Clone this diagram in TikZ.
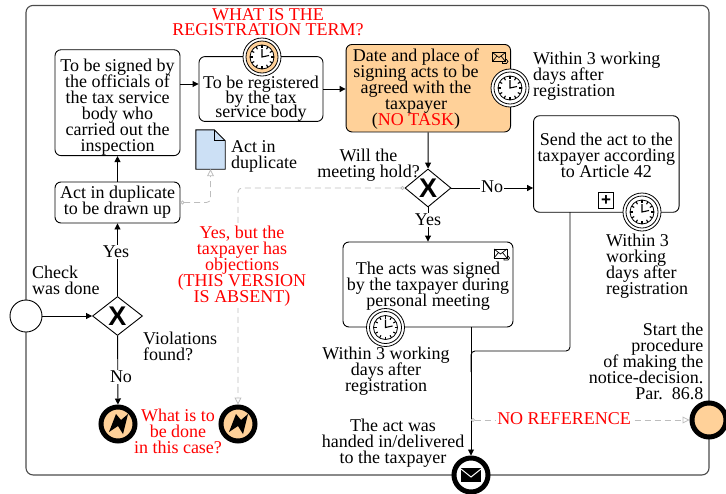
\documentclass[tikz,border=0pt]{standalone}
\usepackage{fontspec}
\setmainfont{Liberation Serif}
\newfontfamily\gatefont{Liberation Sans}
\usetikzlibrary{arrows.meta,shapes.geometric}
\AtBeginDocument{\normallineskiplimit=-10pt \lineskiplimit=-10pt\relax}

\definecolor{bpmnorange}{HTML}{FFD199}
\definecolor{bpmnblue}{HTML}{CCE0F5}
\definecolor{flowgray}{HTML}{BDBDBD}

\tikzset{
  txt/.style={font=\fontsize{18}{16}\selectfont,inner sep=0pt,align=center},
  tighttxt/.style={txt,font=\fontsize{18}{14.5}\selectfont},
  redtxt/.style={txt,text=red},
  task/.style={txt,draw,rounded corners=6pt,line width=0.9pt,fill=white},
  gate/.style={diamond,draw,line width=0.9pt,fill=white,inner sep=0pt,minimum width=50pt,minimum height=39pt,
    label={center:\gatefont\bfseries\fontsize{27}{27}\selectfont X}},
  flow/.style={draw,line width=0.9pt,-{Triangle[length=6pt,width=6pt]}},
  msgflow/.style={draw=flowgray,dashed,dash pattern=on 6pt off 4pt,line width=0.8pt,rounded corners=4pt,
    {Circle[open,length=4pt,width=4pt,fill=white]}-{Triangle[open,length=7pt,width=7pt,fill=white]}},
  pics/timer/.style={code={
    \draw[line width=0.8pt,fill=white] (0,0) circle (19);
    \draw[line width=0.8pt,fill=#1] (0,0) circle (16);
    \draw[line width=0.8pt,fill=white] (0,0) circle (12);
    \foreach \a in {0,30,...,330} \draw[line width=1.1pt] (\a:9) -- (\a:12);
    \draw[line width=1.1pt] (0,-8) -- (0,0) -- (7,-1.5);
  }},
  pics/letter/.style={code={
    \draw[line width=0.7pt,fill=none] (-7,-4.5) rectangle (6,4.5);
    \draw[line width=0.7pt] (-7,-4.5) -- (-0.5,0.5) -- (6,-4.5) (-7,4.5) -- (-2.5,-1) (6,4.5) -- (1.5,-1);
    \draw[line width=0.7pt] (3,4.5) -- (3,6.5) -- (7,6.5) -- (8.5,4.5) -- (7,2.5) -- (6,2.5);
  }}
}

\begin{document}
\begin{tikzpicture}[x=1pt,y=-1pt]
        \useasboundingbox (0,0) rectangle (726,493);

        \node[draw=black!70,line width=1.1pt,rounded corners=7pt,minimum width=683pt,minimum height=469.5pt,inner sep=0pt] (pool) at (367.5,240.2) {};

        \begin{scope}[every node/.style={task,minimum width=125pt}]
          \node[minimum height=104.5pt] (sign) at (117.5,102.7) {\rule{0pt}{22pt}To be signed by\\the officials of\\the tax service\\body who\\carried out the\\inspection};
          \node[minimum height=41pt] (drawup) at (117.5,202.5) {Act in duplicate\\to be drawn up};
          \node[tighttxt,draw,rounded corners=6pt,minimum width=124pt,minimum height=64pt] (register) at (261,89) {\rule{0pt}{32pt}To be registered\\by the tax\\service body};
          \node[fill=bpmnorange,minimum width=164.5pt,minimum height=87.5pt] (date) at (428.3,88.2) {};
          \node[minimum width=145.5pt,minimum height=96.5pt] (send) at (606.3,164) {Send the act to the\\taxpayer according\\to Article 42\\[2pt]\mbox{}};
          \node[minimum width=170pt,minimum height=85pt] (acts) at (428,284.5) {\rule{0pt}{16pt}The acts was signed\\by the taxpayer during\\personal meeting};
        \end{scope}

        \node[gate] (gate1) at (117.5,316) {};
        \node[gate,minimum width=46pt,minimum height=38pt] (gate2) at (428,188) {};
        \node[circle,draw,line width=0.9pt,fill=white,minimum size=32pt,inner sep=0pt] (start) at (26,316) {};

        \begin{scope}[every node/.style={circle,draw,line width=5pt,fill=bpmnorange,minimum size=34pt,inner sep=0pt}]
          \node (err1) at (118,424) {};
          \node (err2) at (238,424) {};
          \node (finish) at (709,420) {};
          \node[fill=white] (mail) at (471,475) {};
        \end{scope}

        % lightning and envelope marks
        \foreach \p in {err1,err2}
          \fill[shift={(\p)}] (-9,8) -- (-2,-10) -- (3,-4) -- (10,-10) -- (5,10) -- (0,2) -- cycle;
        \fill[shift={(mail)}] (-10,-7) rectangle (10,7);
        \draw[shift={(mail)},white,line width=1pt] (-10,-6) -- (0,2) -- (10,-6);

        % document
        \node[minimum width=29pt,minimum height=39pt,inner sep=0pt] (doc) at (210.5,149.5) {};
        \draw[line width=0.9pt,fill=bpmnblue] (doc.south west) -- (doc.north west) -- ([xshift=-11pt]doc.north east) -- ([yshift=-11pt]doc.north east) -- (doc.south east) -- cycle;
        \draw[line width=0.9pt] ([xshift=-11pt]doc.north east) |- ([yshift=-11pt]doc.north east);

        % sequence flows
        \begin{scope}[every edge/.style={flow}]
          \path (start) edge (gate1);
          \path (gate1) edge (drawup);
          \path (drawup) edge (sign);
          \path (gate1) edge (err1);
          \path ([yshift=18.7pt]sign.east) edge ([yshift=5pt]register.west);
          \path (register.east) edge (register.east -| date.west);
          \path (date) edge (gate2);
          \path (gate2) edge (send.west |- gate2);
          \path (gate2) edge (acts);
          \path (acts.south -| mail) edge (mail);
        \end{scope}
        \coordinate (sendout) at (570,212);
        \coordinate (joinpt) at (471,372);
        \draw[line width=0.9pt,rounded corners=4pt] (sendout) |- (471,351) -- (joinpt);

        % dashed flows
        \coordinate (msgstart) at (471,420);
        \draw[msgflow] (drawup.east) -| (doc.south);
        \draw[msgflow] (gate2.west) -| (err2.north);
        \draw[msgflow] (msgstart) -- (finish.west);

        % timers and markers
        \pic at (262,57) {timer=bpmnorange};
        \pic at (510,88) {timer=white};
        \pic at (642,212) {timer=white};
        \pic at (385.5,327.5) {timer=white};
        \pic at (499.5,57) {letter};
        \pic at (501,253.5) {letter};
        \node[draw,line width=0.9pt,fill=white,minimum size=15.5pt,inner sep=0pt,font=\gatefont\bfseries\fontsize{17}{17}\selectfont] (plus) at (606,200.5) {+};

        \begin{scope}[every node/.style={txt}]
          \node (datetext) at (416,89.5) {Date and place of\\signing acts to be\\agreed with the\\taxpayer\\(\textcolor{red}{NO TASK})};
          \node[align=left,anchor=west] (dupl) at (231,156) {Act in\\duplicate};
          \node[align=left,anchor=west] (within1) at (533,76) {Within 3 working\\days after\\registration};
          \node (hold) at (368.5,165) {Will the\\meeting hold?};
          \node[align=left,anchor=west] (check) at (32,280) {Check\\was done};
          \node[align=left,anchor=west] (viol) at (143,346) {Violations\\found?};
          \node (within2) at (386,371) {Within 3 working\\days after\\registration};
          \node (handed) at (393,443) {The act was\\handed in/delivered\\to the taxpayer};
          \node[align=left,anchor=west] (within3) at (606,266) {Within 3\\working\\days after\\registration};
          \node[align=right,anchor=east] (notice) at (703.5,361) {Start the\\procedure\\of making the\\notice-decision.\\Par.\ \ 86.8};
          \node[fill=white,inner sep=1pt] (yes1) at (116,252) {Yes};
          \node[fill=white,inner sep=1pt] (no1) at (121,377) {No};
          \node[fill=white,inner sep=1pt] (no2) at (492,187) {No};
          \node[fill=white,inner sep=1pt] (yes2) at (428,220) {Yes};
        \end{scope}

        \begin{scope}[every node/.style={redtxt}]
          \node[tighttxt,text=red] (term) at (268,22) {WHAT IS THE\\REGISTRATION TERM?};
          \node[fill=white,inner sep=2pt] (objections) at (242,266) {Yes, but the\\taxpayer has\\objections\\(THIS VERSION\\IS ABSENT)};
          \node (todo) at (178,431) {What is to\\be done\\in this case?};
          \node[fill=white,inner sep=1pt] (noref) at (564,419) {NO REFERENCE};
        \end{scope}

      \end{tikzpicture}
\end{document}
